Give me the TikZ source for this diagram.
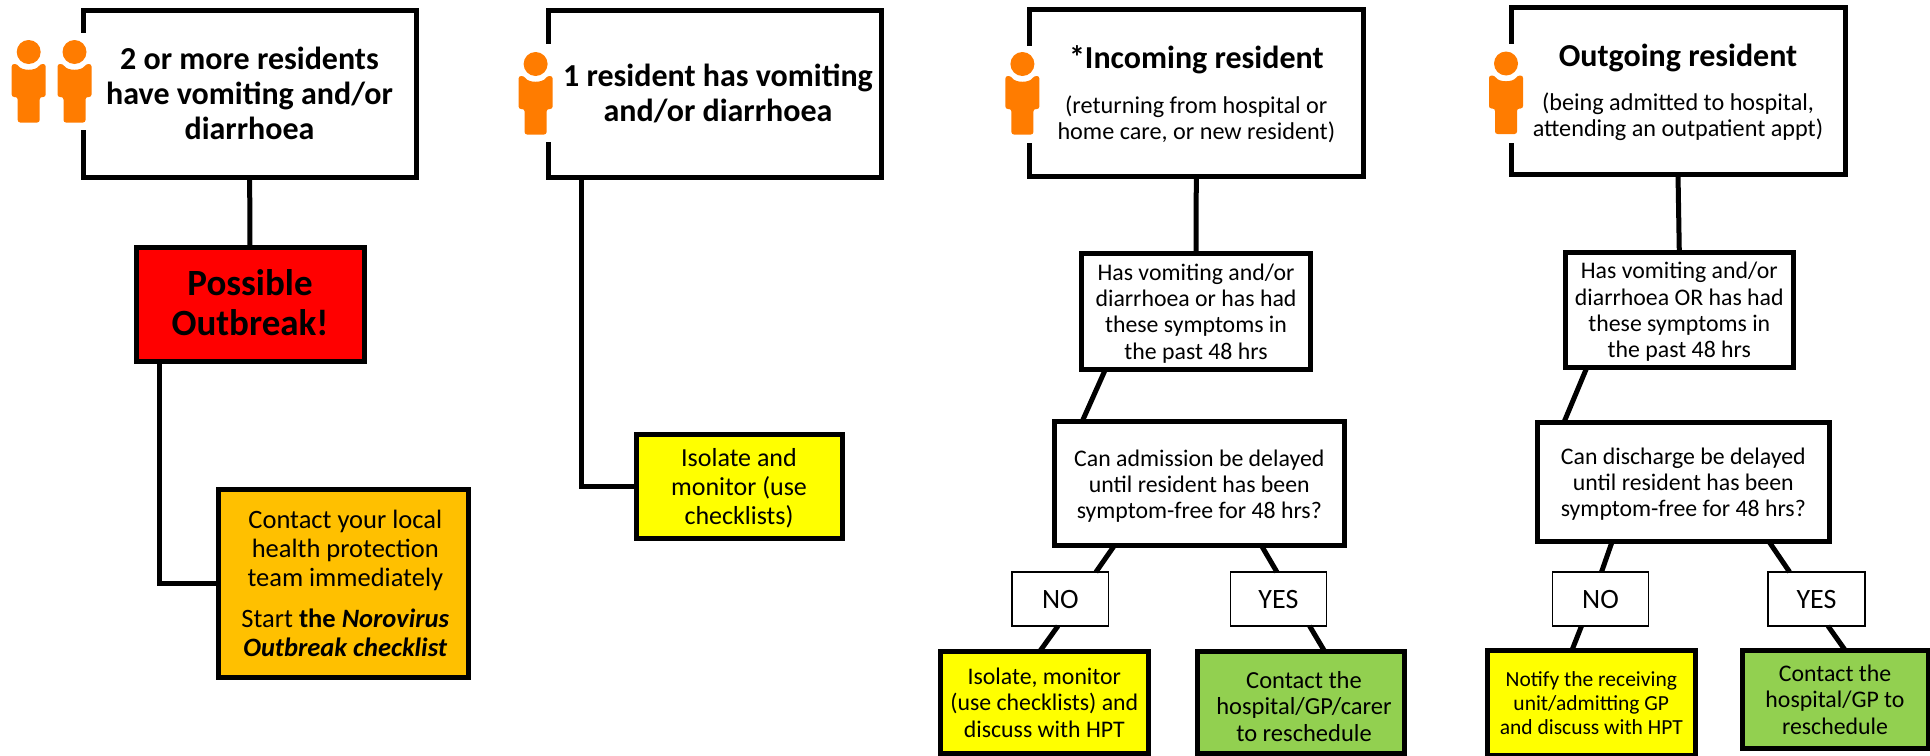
\documentclass[tikz,border=0pt]{standalone}
\usepackage{fontspec}
\setmainfont{Carlito}
\usetikzlibrary{calc}
\definecolor{iconorange}{HTML}{FF7C00}
\definecolor{amberfill}{HTML}{FFC000}
\definecolor{greenfill}{HTML}{92D050}
\definecolor{yellowfill}{HTML}{FFFF00}
\definecolor{redfill}{HTML}{FF0000}
\newcommand{\txt}[2]{\raisebox{-3.5pt}[\height][\depth]{\kern#1pt\begin{tabular}{@{}c@{}}#2\end{tabular}}}
\newcommand{\fs}[2]{\fontsize{#1}{#2}\selectfont}
\newcommand{\personicon}[2]{%
  \begin{scope}[shift={(#1,#2)}]
    \fill[iconorange] (0,0) circle (12);
    \fill[iconorange, rounded corners=2.5] (-17,12) -- (-17,45) -- (-11,45) -- (-11,70.5) -- (11,70.5) -- (11,45) -- (17,45) -- (17,12) -- (11.5,12)
      .. controls (7,19) and (-7,19) .. (-11.5,12) -- cycle;
  \end{scope}}
\tikzset{
  flowbox/.style={draw=black, line width=5pt, fill=white, align=center, inner sep=0pt, outer sep=0pt, line join=miter},
  thinbox/.style={draw=black, line width=1.5pt, fill=white, align=center, inner sep=0pt, outer sep=0pt},
  link/.style={draw=black, line width=5pt},
  headtext/.style={font=\fs{32}{35}\bfseries},
  bigtext/.style={font=\fs{37}{40.5}\bfseries},
  subtext/.style={font=\fs{26}{29}},
  smalltext/.style={font=\fs{23.8}{26.3}},
  answertext/.style={font=\fs{28}{32}},
}
\begin{document}
\begin{tikzpicture}[x=1pt,y=-1pt]
\useasboundingbox (0,0) rectangle (1930,755);
% first column
\node[flowbox, headtext, minimum width=333pt, minimum height=167pt] (a) at (249.5,93.5) {\txt{0}{2 or more residents\\have vomiting and/or\\diarrhoea}};
\node[flowbox, fill=redfill, bigtext, minimum width=228pt, minimum height=114pt] (ared) at (250,304) {\txt{0}{Possible\\Outbreak!}};
\node[flowbox, fill=amberfill, font=\fs{26.5}{29}, minimum width=250pt, minimum height=188pt] (aamb) at (343,583) {\txt{4.6}{Contact your local\\health protection\\team immediately\\[12pt]Start \textbf{the \textit{Norovirus}}\\\textbf{\textit{Outbreak checklist}}}};
\draw[link] (a) -- (ared);
\draw[link] ([xshift=23pt]ared.south west) |- (aamb.west);
% second column
\node[flowbox, headtext, minimum width=333pt, minimum height=167pt] (b) at (714.5,93.5) {\txt{7}{1 resident has vomiting\\and/or diarrhoea}};
\node[flowbox, fill=yellowfill, subtext, minimum width=206pt, minimum height=104pt] (byel) at (739,486) {\txt{0}{Isolate and\\monitor (use\\checklists)}};
\draw[link] ([xshift=33pt]b.south west) |- (byel.west);
% third column
\node[flowbox, font=\fs{24.2}{26}, minimum width=333.5pt, minimum height=166.5pt] (c) at (1196.3,92.8) {\txt{0}{{\fs{32}{35}\bfseries *Incoming resident}\\[18.5pt](returning from hospital or\\home care, or new resident)}};
\node[flowbox, smalltext, minimum width=228.5pt, minimum height=116pt] (c1) at (1196,311) {\txt{0}{Has vomiting and/or\\diarrhoea or has had\\these symptoms in\\the past 48 hrs}};
\node[flowbox, smalltext, minimum width=289.5pt, minimum height=123.5pt] (c2) at (1199.3,483.7) {\txt{0}{Can admission be delayed\\until resident has been\\symptom-free for 48 hrs?}};
\node[thinbox, answertext, minimum width=96.7pt, minimum height=54pt] (cno) at (1060.3,599) {\txt{0}{NO}};
\node[thinbox, answertext, minimum width=96pt, minimum height=54pt] (cyes) at (1278.4,599) {\txt{0}{YES}};
\node[flowbox, fill=yellowfill, smalltext, minimum width=207.4pt, minimum height=102pt] (cyel) at (1044.3,702) {\txt{0}{Isolate, monitor\\(use checklists) and\\discuss with HPT}};
\node[flowbox, fill=greenfill, font=\fs{24.5}{26.5}, minimum width=207pt, minimum height=101.5pt] (cgrn) at (1300.5,702.7) {\raisebox{-3pt}[\height][\depth]{\txt{7}{Contact the\\hospital/GP/carer\\to reschedule}}};
\draw[link] (c.south) -- (c1.north);
\draw[link] ([xshift=23.8pt]c1.south west) -- ([xshift=27.4pt]c2.north west);
\draw[link] ([xshift=59.9pt]c2.south west) -- ([xshift=84pt]cno.north west);
\draw[link] ([xshift=206.8pt]c2.south west) -- ([xshift=46.5pt]cyes.north west);
\draw[link] ([xshift=46pt]cno.south west) -- ([xshift=99.4pt]cyel.north west);
\draw[link] ([xshift=79.2pt]cyes.south west) -- ([xshift=128pt]cgrn.north west);
% fourth column
\node[flowbox, font=\fs{24.2}{26}, minimum width=334pt, minimum height=167pt] (d) at (1678,90.5) {\txt{0}{{\fs{32}{35}\bfseries Outgoing resident}\\[18.5pt](being admitted to hospital,\\attending an outpatient appt)}};
\node[flowbox, smalltext, minimum width=228.5pt, minimum height=115pt] (d1) at (1679.3,309.5) {\txt{0}{Has vomiting and/or\\diarrhoea OR has had\\these symptoms in\\the past 48 hrs}};
\node[flowbox, smalltext, minimum width=292.5pt, minimum height=119.7pt] (d2) at (1683.3,481.9) {\txt{0}{Can discharge be delayed\\until resident has been\\symptom-free for 48 hrs?}};
\node[thinbox, answertext, minimum width=96pt, minimum height=54pt] (dno) at (1600.5,599) {\txt{0}{NO}};
\node[thinbox, answertext, minimum width=97pt, minimum height=54pt] (dyes) at (1816.5,599) {\txt{0}{YES}};
\node[flowbox, fill=yellowfill, font=\fs{21.5}{24}, minimum width=207.5pt, minimum height=105pt] (dyel) at (1591.3,702.5) {\txt{0}{Notify the receiving\\unit/admitting GP\\and discuss with HPT}};
\node[flowbox, fill=greenfill, smalltext, minimum width=186pt, minimum height=98pt] (dgrn) at (1835,699) {\txt{0}{Contact the\\hospital/GP to\\reschedule}};
\draw[link] (d.south) -- (d1.north);
\draw[link] ([xshift=22pt]d1.south west) -- ([xshift=27pt]d2.north west);
\draw[link] ([xshift=75pt]d2.south west) -- ([xshift=49pt]dno.north west);
\draw[link] ([xshift=232pt]d2.south west) -- ([xshift=21.6pt]dyes.north west);
\draw[link] ([xshift=29pt]dno.south west) -- ([xshift=84.5pt]dyel.north west);
\draw[link] ([xshift=60pt]dyes.south west) -- ([xshift=103pt]dgrn.north west);
% icons
\fill[white] (6,33) rectangle (88,130);
\personicon{28.7}{52}
\personicon{74.5}{52}
\fill[white] (515,44) rectangle (556,142);
\personicon{535.6}{64}
\fill[white] (1000,46) rectangle (1035,143);
\personicon{1022.4}{64}
\fill[white] (1484,44) rectangle (1517,143);
\personicon{1506}{63.5}
\end{tikzpicture}
\end{document}
